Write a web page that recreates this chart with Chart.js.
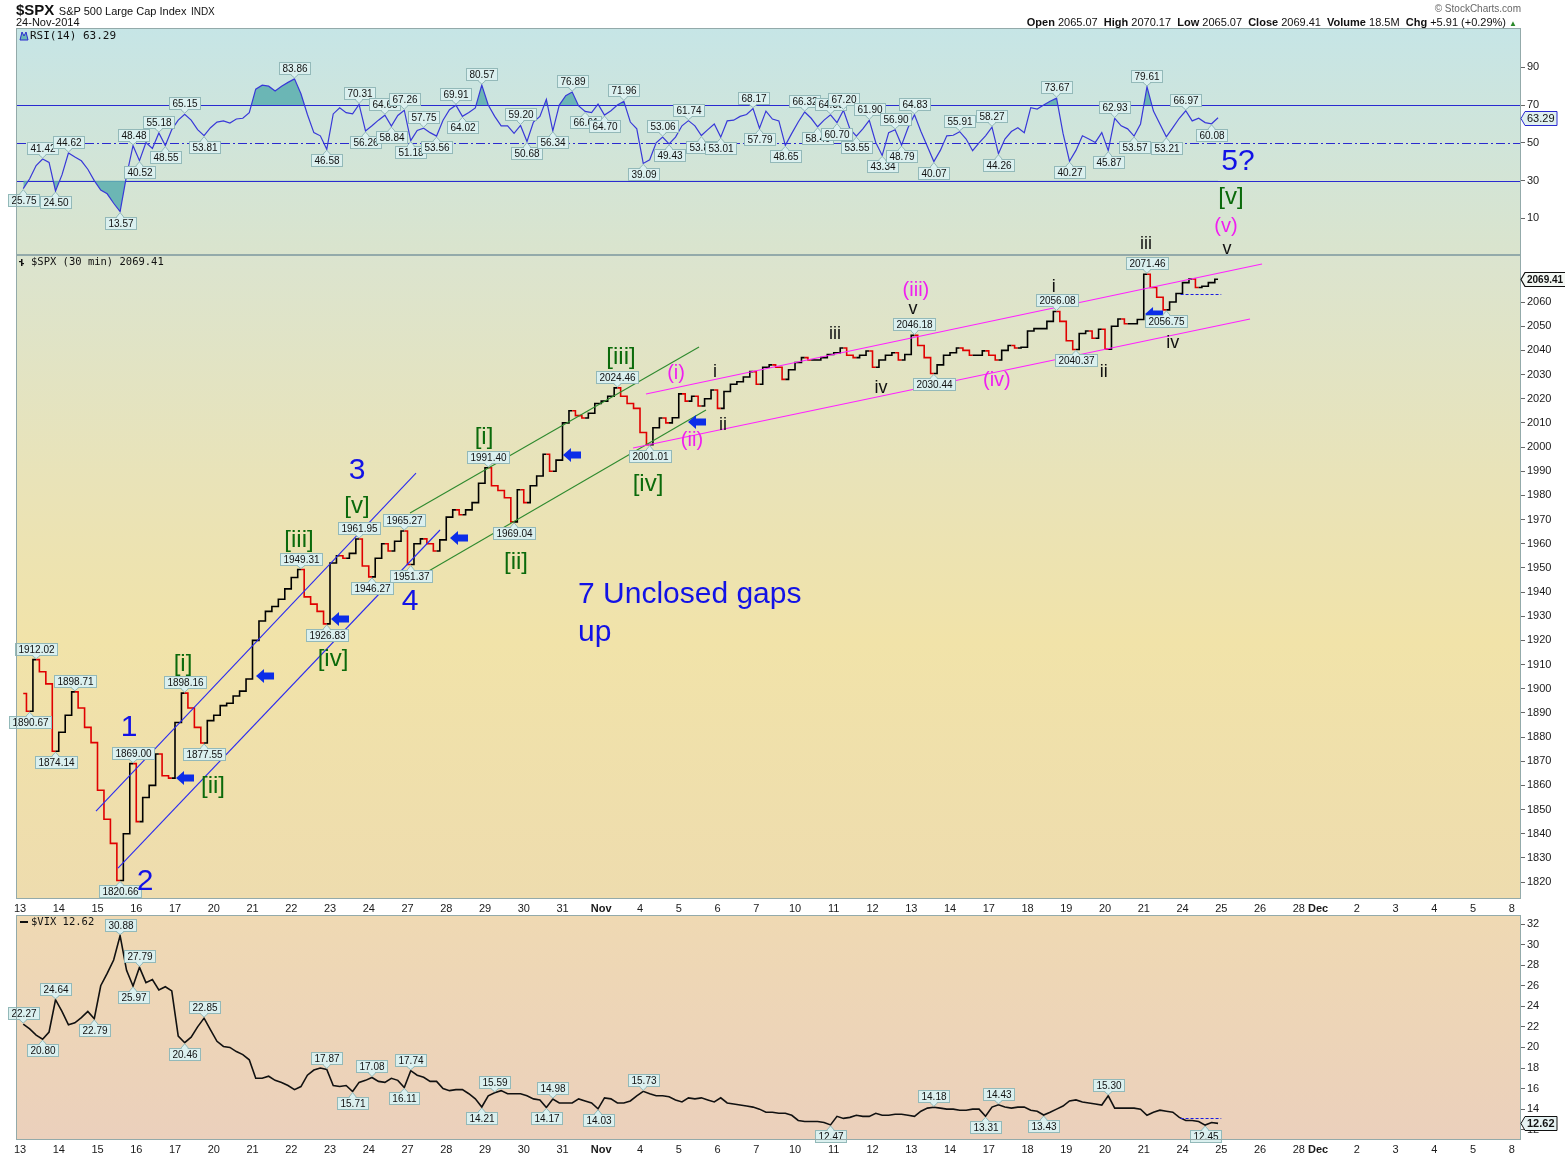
<!DOCTYPE html>
<html><head><meta charset="utf-8">
<script src="https://cdn.jsdelivr.net/npm/chart.js@4.4.1/dist/chart.umd.min.js"></script>
<style>
html,body{margin:0;padding:0;background:#fff;}
body{width:1565px;height:1157px;position:relative;overflow:hidden;font-family:"Liberation Sans",Arial,sans-serif;color:#111;}
.pane{position:absolute;left:0;}
canvas{display:block;}
.hd{position:absolute;white-space:nowrap;z-index:5;}
</style></head><body>
<div class="pane" style="top:0"><canvas id="rsi" width="1565" height="270"></canvas></div>
<div class="pane" style="top:895px"><canvas id="vix" width="1565" height="262"></canvas></div>
<div class="pane" style="top:0"><canvas id="spx" width="1565" height="915"></canvas></div>
<div class="hd" style="left:16px;top:1px;"><b style="font-size:15px;">$SPX</b> <span style="font-size:11px;">S&amp;P 500 Large Cap Index</span> <span style="font-size:10px;">INDX</span></div>
<div class="hd" style="left:16px;top:16px;font-size:11px;">24-Nov-2014</div>
<div class="hd" style="right:44px;top:3px;font-size:10px;color:#666;">&copy; StockCharts.com</div>
<div class="hd" style="right:48px;top:16px;font-size:11px;"><b>Open</b> 2065.07&nbsp; <b>High</b> 2070.17&nbsp; <b>Low</b> 2065.07&nbsp; <b>Close</b> 2069.41&nbsp; <b>Volume</b> 18.5M&nbsp; <b>Chg</b> +5.91 (+0.29%) <span style="color:#2a8a2a;font-size:8px;">&#9650;</span></div>
<script>
// ---------------- DATA ----------------
const sessionLabels = ['13','14','15','16','17','20','21','22','23','24','27','28','29','30','31','Nov','4','5','6','7','10','11','12','13','14','17','18','19','20','21','24','25','26','28','Dec','2','3','4','5','8'];
const sessionLength = [1,1,1,1,1,1,1,1,1,1,1,1,1,1,1,1,1,1,1,1,1,1,1,1,1,1,1,1,1,1,1,1,1,0.5,1,1,1,1,1,1];
const BARS = 6; // sampled points per session

const spxClose = [
 1898,1890.67,1912.02,1907,1902,1874.14,      // Oct 13
 1882,1889,1898.71,1892,1884,1877.7,          // Oct 14
 1858,1846,1836,1820.66,1840,1869.00,         // Oct 15
 1845,1855,1860,1873,1864,1863,               // Oct 16
 1886,1898.16,1892,1884,1877.55,1886.8,       // Oct 17
 1889,1893,1894,1897,1899,1904,               // Oct 20
 1920,1928,1932,1934,1937,1941.3,             // Oct 21
 1946,1949.31,1938,1935,1932,1926.83,         // Oct 22
 1952,1955,1954,1956,1961.95,1950.8,          // Oct 23
 1946.27,1954,1960,1957,1961,1965.27,         // Oct 24
 1951.37,1960,1962,1960,1957,1961.6,          // Oct 27
 1971,1974,1972,1974,1977,1985,               // Oct 28
 1991.40,1984,1982,1979,1969.04,1982.3,       // Oct 29
 1977,1984,1988,1997,1990,1994.6,             // Oct 30
 2010,2015,2013,2012,2014,2018,               // Oct 31
 2019,2021,2024.46,2021,2018,2016,            // Nov 3
 2006,2001.01,2008,2012,2010,2012.1,          // Nov 4
 2022,2019,2021,2017,2020,2023.6,             // Nov 5
 2016,2023,2026,2027,2029,2031.2,             // Nov 6
 2026,2033,2034,2033,2028,2032,               // Nov 7
 2035,2037,2036,2036,2037,2038.3,             // Nov 10
 2039,2041,2038,2037,2038,2039.7,             // Nov 11
 2033,2036,2038,2039,2036,2038.3,             // Nov 12
 2046.18,2042,2037,2030.44,2034,2038,         // Nov 13
 2039,2041,2040,2038,2038,2039.8,             // Nov 14
 2038,2036,2040,2042,2041,2041.3,             // Nov 17
 2048,2049,2049,2052,2056.08,2052,            // Nov 18
 2044,2040.37,2047,2048,2045,2048.7,          // Nov 19
 2040.49,2050,2053,2051,2051,2052.75,         // Nov 20
 2071.46,2066,2062,2056.75,2060,2063.5,       // Nov 21
 2068,2069.5,2066,2066.5,2068,2069.41         // Nov 24
];
const rsi14 = [
 25.75,31,38,41.42,39.6,24.50,
 33,44.62,42.5,40.5,36,30,
 25,23,18,13.57,32.6,48.48,
 40.52,50.2,47,55.18,48.55,57,
 62,65.15,62,57,53.81,58,
 61,61.6,60.5,62.6,63,66,
 78.4,80.5,80,77.4,80,82,
 83.86,76,65,55.4,53.7,46.58,
 65.3,68.6,66,65.3,70.31,56.26,
 59,62,64.63,58.84,64.5,67.26,
 51.18,56.5,57.75,55.4,53.56,62,
 67.5,69.91,64.02,66,68.5,80.57,
 70,64,59,59,55,59.20,
 50.68,61,64,73,56.34,70,
 75,76.89,69.5,66.61,66,70.5,
 64.70,67,70,71.96,61,57.4,
 39.09,41,50,53.06,49.43,53,
 59,61.74,59,53.86,57,60,
 53.01,61.6,62,64,65,68.17,
 57.79,66.8,62.6,61.6,48.65,55,
 61,66.32,63,58.49,62,64.80,
 60.70,67.20,57.4,53.55,57.4,61.90,
 50.2,43.34,55.4,56.90,48.79,58,
 64.83,56,48,40.07,46,53.7,
 54,55.91,52,45.8,50,53.7,
 58.27,44.26,52,56,58,55.4,
 68.6,67.9,70,72,73.67,55,
 40.27,46,53.7,52,50.2,55.4,
 45.87,62.93,59,57.4,53.57,60,
 79.61,66.8,60,53.21,58,63,
 66.97,61.6,63,60.7,60.08,63.29
];
const vixClose = [
 22.27,21.8,21.2,20.80,21.5,24.64,
 23.5,22.2,22.4,22.9,23.5,22.79,
 26,27.2,28.5,30.88,27.5,25.97,
 27.79,26.3,26.6,25.6,25.9,25.5,
 21.1,20.46,21.0,22.0,22.85,21.7,
 20.6,20.1,20.0,19.6,19.3,18.8,
 17.0,17.0,17.2,16.8,16.6,16.3,
 15.9,16.2,17.3,17.8,18.0,17.87,
 16.3,16.2,16.3,15.71,16.6,16.8,
 17.08,16.7,16.6,17.0,16.8,16.11,
 17.74,17.3,17.1,16.7,16.7,16.0,
 15.8,15.9,15.9,15.5,15.0,14.21,
 15.3,15.59,15.8,15.5,15.5,15.5,
 15.3,15.0,14.9,14.17,14.98,14.6,
 14.6,14.6,15.0,14.8,14.6,14.03,
 15.1,15.0,14.6,14.6,14.8,15.3,
 15.73,15.5,15.3,15.3,15.2,14.9,
 14.7,15.1,15.0,15.1,14.9,14.7,
 15.1,14.6,14.5,14.4,14.3,14.2,
 14.0,13.7,13.7,13.6,13.6,13.4,
 12.9,12.8,12.8,12.8,12.7,12.47,
 13.3,13.1,13.2,13.4,13.3,13.3,
 13.6,13.4,13.4,13.5,13.5,13.4,
 13.3,13.8,14.1,14.18,14.1,14.0,
 14.0,13.9,13.9,14.0,14.0,13.31,
 14.2,14.43,14.2,14.1,14.2,14.2,
 13.9,13.8,13.43,13.7,14.0,14.3,
 14.8,14.9,14.7,14.6,14.5,14.4,
 15.30,14.1,14.1,14.1,14.1,14.0,
 13.4,13.7,13.9,13.8,13.7,13.2,
 12.9,12.9,12.8,12.45,12.7,12.62
];
const rsiTicks = [10,30,50,70,90];
const rsiLevels = [70,50,30];
const spxTicks = [1820,1830,1840,1850,1860,1870,1880,1890,1900,1910,1920,1930,1940,1950,1960,1970,1980,1990,2000,2010,2020,2030,2040,2050,2060];
const vixTicks = [12,14,16,18,20,22,24,26,28,30,32];

// labelled highs/lows: [session, point, up/down]
const spxMarks = [[0,1,'d'],[0,2,'u'],[0,5,'d'],[1,2,'u'],[2,3,'d'],[2,5,'u'],[4,1,'u'],[4,4,'d'],[7,1,'u'],[7,5,'d'],[8,4,'u'],[9,0,'d'],[9,5,'u'],[10,0,'d'],[12,0,'u'],[12,4,'d'],[15,2,'u'],[16,1,'d'],[23,0,'u'],[23,3,'d'],[26,4,'u'],[27,1,'d'],[29,0,'u'],[29,3,'d']];
const rsiMarks = [[0,0,'d'],[0,3,'u'],[0,5,'d'],[1,1,'u'],[2,3,'d'],[2,5,'u'],[3,0,'d'],[3,3,'u'],[3,4,'d'],[4,1,'u'],[4,4,'d'],[7,0,'u'],[7,5,'d'],[8,4,'u'],[8,5,'d'],[9,2,'u'],[9,3,'d'],[9,5,'u'],[10,0,'d'],[10,2,'u'],[10,4,'d'],[11,1,'u'],[11,2,'d'],[11,5,'u'],[12,5,'u'],[13,0,'d'],[13,4,'d'],[14,1,'u'],[14,3,'d'],[15,0,'d'],[15,3,'u'],[16,0,'d'],[16,3,'u'],[16,4,'d'],[17,1,'u'],[17,3,'d'],[18,0,'d'],[18,5,'u'],[19,0,'d'],[19,4,'d'],[20,1,'u'],[20,3,'d'],[20,5,'u'],[21,0,'d'],[21,1,'u'],[21,3,'d'],[21,5,'u'],[22,1,'d'],[22,3,'u'],[22,4,'d'],[23,0,'u'],[23,3,'d'],[24,1,'u'],[25,0,'u'],[25,1,'d'],[26,4,'u'],[27,0,'d'],[28,0,'d'],[28,1,'u'],[28,4,'d'],[29,0,'u'],[29,3,'d'],[30,0,'u'],[30,4,'d']];
const vixMarks = [[0,0,'u'],[0,3,'d'],[0,5,'u'],[1,5,'d'],[2,3,'u'],[2,5,'d'],[3,0,'u'],[4,1,'d'],[4,4,'u'],[7,5,'u'],[8,3,'d'],[9,0,'u'],[9,5,'d'],[10,0,'u'],[11,5,'d'],[12,1,'u'],[13,3,'d'],[13,4,'u'],[14,5,'d'],[16,0,'u'],[20,5,'d'],[23,3,'u'],[24,5,'d'],[25,1,'u'],[26,2,'d'],[28,0,'u'],[30,3,'d']];

// drawn trend channels: [session-from, price-from, session-to, price-to, colour]
const channelLines = [
 [1.961,1849.4,10.219,1989.25,'#2b2bf0'],
 [2.529,1825.8,10.839,1965.67,'#2b2bf0'],
 [10.065,1972.7,17.523,2041.4,'#2f8a2f'],
 [10.503,1948.3,17.703,2015.3,'#2f8a2f'],
 [16.155,2021.94,32.052,2075.7,'#ff22ff'],
 [15.82,1999.6,31.742,2052.97,'#ff22ff']
];
// unclosed gap arrows: [session, price]
const gapArrows = [[4.258,1863.06],[6.323,1905.26],[8.258,1928.85],[11.329,1962.36],[14.245,1996.7],[17.471,2010.35],[29.265,2055.0]];
// last open gap (Nov 21 close) lines
const gapSpan = [29.95, 31.0];
const spxGapLevel = 2063.5;
const vixGapLevel = 13.17;
// Elliott wave annotations: [text, style, session, price]
const waveLabels = [
 ['1','b',2.813,1883.75],['2','b',3.226,1820.0],['3','b',8.697,1990.1],['4','b',10.065,1935.9],['5?','b',31.432,2117.9],
 ['[i]','g',4.206,1910.2],['[ii]','g',4.981,1859.75],['[iii]','g',7.2,1961.5],['[iv]','g',8.077,1912.3],['[v]','g',8.697,1975.6],
 ['[i]','g',11.974,2004.15],['[ii]','g',12.8,1952.4],['[iii]','g',15.51,2037.25],['[iv]','g',16.206,1984.7],['[v]','g',31.25,2103.4],
 ['(i)','m',16.93,2030.6],['(ii)','m',17.34,2002.9],['(iii)','m',23.12,2064.95],['(iv)','m',25.21,2027.7],['(v)','m',31.12,2091.45],
 ['i','k',17.935,2031.0],['ii','k',18.14,2009.1],['iii','k',21.03,2046.8],['iv','k',22.22,2024.4],['v','k',23.045,2057.1],
 ['i','k',26.68,2066.2],['ii','k',27.97,2031.0],['iii','k',29.06,2084.0],['iv','k',29.75,2043.0],['v','k',31.15,2081.9]
];
const noteLines = [['7 Unclosed gaps',14.4,1938.8],['up',14.4,1923.05]];

// ---------------- HELPERS ----------------
Chart.defaults.font.family = '"Liberation Sans", Arial, sans-serif';
Chart.defaults.font.size = 11;
Chart.defaults.color = '#1a1a1a';
const X_MIN = -0.0774, X_MAX = 38.735;
const starts = []; { let a = 0; for (const L of sessionLength) { starts.push(a); a += L; } }
const toPoints = arr => arr.map((v, k) => { const d = Math.floor(k / BARS); return {x: starts[d] + ((k % BARS) + 0.5) / BARS * sessionLength[d], y: v}; });
const spxPts = toPoints(spxClose), rsiPts = toPoints(rsi14), vixPts = toPoints(vixClose);

const xScale = show => ({
  type: 'linear', min: X_MIN, max: X_MAX, display: show,
  afterBuildTicks: s => { s.ticks = starts.map(v => ({value: v})); },
  ticks: { autoSkip: false, maxRotation: 0, minRotation: 0, padding: 3, color: '#1a1a1a',
    font: c => ({size: 11, weight: /^[A-Z]/.test(sessionLabels[c.index] || '') ? 'bold' : 'normal'}),
    callback: (v, i) => sessionLabels[i] },
  grid: { display: false, drawTicks: false }, border: { display: false },
  afterFit: s => { s.height = show ? 16 : 0; }
});
const yScale = (min, max, ticks, fmt) => ({
  position: 'right', min, max,
  afterBuildTicks: s => { s.ticks = ticks.map(v => ({value: v})); },
  ticks: { autoSkip: false, padding: 2, color: '#1a1a1a', font: {size: 11}, callback: v => fmt(v) },
  grid: { display: true, drawOnChartArea: false, drawTicks: true, tickLength: 4, color: '#666' },
  border: { display: false },
  afterFit: s => { s.width = 44; }
});
function panelPlugin(id, stops) {
  return { id,
    beforeDraw(chart) {
      const {ctx, chartArea: a} = chart;
      const g = ctx.createLinearGradient(0, a.top, 0, a.bottom);
      stops.forEach(([o, c]) => g.addColorStop(o, c));
      ctx.save(); ctx.fillStyle = g; ctx.fillRect(a.left, a.top, a.right - a.left, a.bottom - a.top); ctx.restore();
    },
    afterDraw(chart) {
      const {ctx, chartArea: a} = chart;
      ctx.save(); ctx.strokeStyle = '#93aaaa'; ctx.lineWidth = 1;
      ctx.strokeRect(Math.round(a.left) - 0.5, Math.round(a.top) + 0.5, Math.round(a.right - a.left), Math.round(a.bottom - a.top) - 1);
      ctx.restore();
    }
  };
}
function valueBox(ctx, x, y, text, dir) {
  ctx.font = '10px "Liberation Sans", Arial, sans-serif';
  const w = Math.ceil(ctx.measureText(text).width) + 5, h = 12, gap = 5;
  const bx = Math.round(x - w / 2) + 0.5;
  const by = Math.round(dir === 'u' ? y - gap - h : y + gap) + 0.5;
  ctx.fillStyle = '#dbf0ef'; ctx.strokeStyle = '#93b9b9'; ctx.lineWidth = 1;
  ctx.beginPath();
  if (dir === 'u') { ctx.moveTo(x - 4, by + h); ctx.lineTo(x, y - 1); ctx.lineTo(x + 4, by + h); }
  else { ctx.moveTo(x - 4, by); ctx.lineTo(x, y + 1); ctx.lineTo(x + 4, by); }
  ctx.closePath(); ctx.fill(); ctx.stroke();
  ctx.fillRect(bx, by, w, h); ctx.strokeRect(bx, by, w, h);
  ctx.fillRect(x - 3, dir === 'u' ? by + h - 1.5 : by - 0.5, 6, 2);
  ctx.fillStyle = '#111'; ctx.textAlign = 'center'; ctx.textBaseline = 'middle';
  ctx.fillText(text, bx + w / 2, by + h / 2 + 0.5);
}
function drawMarks(chart, pts, marks) {
  const {ctx, scales: {x, y}} = chart;
  ctx.save();
  marks.forEach(([d, i, dir]) => {
    const p = pts[d * BARS + i];
    valueBox(ctx, x.getPixelForValue(p.x), y.getPixelForValue(p.y), p.y.toFixed(2), dir);
  });
  ctx.restore();
}
function axisTag(chart, value, text, opt) {
  const {ctx, chartArea: a, scales: {y}} = chart;
  const py = Math.round(y.getPixelForValue(value)) + 0.5;
  ctx.save();
  ctx.font = (opt.bold ? 'bold ' : '') + (opt.size || 11) + 'px "Liberation Sans", Arial, sans-serif';
  const w = Math.ceil(ctx.measureText(text).width) + 4, h = 14, x0 = a.right, tip = 4;
  ctx.beginPath(); ctx.moveTo(x0, py); ctx.lineTo(x0 + tip, py - h / 2); ctx.lineTo(x0 + tip + w, py - h / 2);
  ctx.lineTo(x0 + tip + w, py + h / 2); ctx.lineTo(x0 + tip, py + h / 2); ctx.closePath();
  ctx.fillStyle = opt.fill; ctx.fill(); ctx.strokeStyle = opt.stroke; ctx.lineWidth = opt.lw || 1; ctx.stroke();
  ctx.fillStyle = '#111'; ctx.textAlign = 'left'; ctx.textBaseline = 'middle';
  ctx.fillText(text, x0 + tip + 2, py + 0.5);
  ctx.restore();
}
const common = { responsive: false, animation: false, devicePixelRatio: 1, events: [],
  plugins: { legend: {display: false}, tooltip: {enabled: false} } };

// ---------------- RSI PANEL ----------------
const teal = 'rgba(96,176,176,0.9)';
new Chart(document.getElementById('rsi'), {
  type: 'line',
  data: { datasets: [
    { data: rsiPts, borderColor: '#3838d8', borderWidth: 1.2, pointRadius: 0, tension: 0,
      fill: { target: {value: 70}, above: teal, below: 'rgba(0,0,0,0)' } },
    { data: rsiPts, borderWidth: 0, borderColor: 'rgba(0,0,0,0)', pointRadius: 0, tension: 0,
      fill: { target: {value: 30}, above: 'rgba(0,0,0,0)', below: teal } }
  ]},
  options: { ...common,
    layout: { padding: {left: 17, top: 28, right: 0, bottom: 15} },
    scales: { x: xScale(false), y: yScale(-9.4, 110.8, rsiTicks, v => String(v)) }
  },
  plugins: [panelPlugin('rsiBg', [[0, '#c6e5e6'], [1, '#dae4cd']]), {
    id: 'rsiOverlay',
    beforeDatasetsDraw(chart) {
      const {ctx, chartArea: a, scales: {y}} = chart;
      ctx.save(); ctx.strokeStyle = '#2a2ad0'; ctx.lineWidth = 1;
      rsiLevels.forEach(v => {
        const py = Math.round(y.getPixelForValue(v)) + 0.5;
        ctx.setLineDash(v === 50 ? [9, 3, 2, 3] : []);
        ctx.beginPath(); ctx.moveTo(a.left, py); ctx.lineTo(a.right, py); ctx.stroke();
      });
      ctx.restore();
    },
    afterDatasetsDraw(chart) { drawMarks(chart, rsiPts, rsiMarks); },
    afterDraw(chart) {
      const {ctx, chartArea: a} = chart;
      const last = rsi14[rsi14.length - 1];
      ctx.save();
      ctx.fillStyle = teal; ctx.strokeStyle = '#2a2ad0'; ctx.lineWidth = 1;
      ctx.beginPath(); ctx.moveTo(a.left + 3, a.top + 12); ctx.lineTo(a.left + 5, a.top + 4); ctx.lineTo(a.left + 7, a.top + 8);
      ctx.lineTo(a.left + 9, a.top + 4); ctx.lineTo(a.left + 11, a.top + 12); ctx.closePath(); ctx.fill(); ctx.stroke();
      ctx.fillStyle = '#111'; ctx.font = '11px "DejaVu Sans Mono", monospace'; ctx.textBaseline = 'middle';
      ctx.fillText('RSI(14) ' + last.toFixed(2), a.left + 13, a.top + 8);
      ctx.restore();
      axisTag(chart, last, last.toFixed(2), {fill: '#dff0f0', stroke: '#2a2ad0'});
    }
  }]
});

// ---------------- VIX PANEL ----------------
new Chart(document.getElementById('vix'), {
  type: 'line',
  data: { datasets: [
    { data: vixPts, borderColor: '#111', borderWidth: 1.6, pointRadius: 0, tension: 0, fill: false }
  ]},
  options: { ...common,
    layout: { padding: {left: 17, top: 20, right: 0, bottom: 1} },
    scales: { x: xScale(true), y: yScale(11.0, 32.88, vixTicks, v => String(v)) }
  },
  plugins: [panelPlugin('vixBg', [[0, '#efd9b3'], [1, '#ebd0bc']]), {
    id: 'vixOverlay',
    afterDatasetsDraw(chart) {
      const {ctx, scales: {x, y}} = chart;
      ctx.save(); ctx.strokeStyle = '#1a1ae0'; ctx.lineWidth = 1; ctx.setLineDash([3, 2]);
      const py = Math.round(y.getPixelForValue(vixGapLevel)) + 0.5;
      ctx.beginPath(); ctx.moveTo(x.getPixelForValue(gapSpan[0]), py); ctx.lineTo(x.getPixelForValue(gapSpan[1]), py); ctx.stroke();
      ctx.restore();
      drawMarks(chart, vixPts, vixMarks);
    },
    afterDraw(chart) {
      const {ctx, chartArea: a} = chart;
      const last = vixClose[vixClose.length - 1];
      ctx.save();
      ctx.fillStyle = '#111'; ctx.fillRect(a.left + 3, a.top + 6, 8, 2);
      ctx.font = '10.5px "DejaVu Sans Mono", monospace'; ctx.textBaseline = 'middle';
      ctx.fillText('$VIX ' + last.toFixed(2), a.left + 14, a.top + 7);
      ctx.restore();
      axisTag(chart, last, last.toFixed(2), {fill: '#e6f2f2', stroke: '#111', bold: true});
    }
  }]
});

// ---------------- SPX PANEL ----------------
const waveStyle = {
  b: {color: '#1212e6', font: '30px "Liberation Sans", Arial, sans-serif'},
  g: {color: '#0b6a0b', font: '24px "Liberation Sans", Arial, sans-serif'},
  m: {color: '#f01ef0', font: '20px "Liberation Sans", Arial, sans-serif'},
  k: {color: '#111111', font: '18px "Liberation Sans", Arial, sans-serif'}
};
new Chart(document.getElementById('spx'), {
  type: 'line',
  data: { datasets: [
    { data: spxPts, stepped: 'middle', borderWidth: 1.6, pointRadius: 0, borderColor: '#000', fill: false,
      segment: { borderColor: c => c.p1.parsed.y < c.p0.parsed.y ? '#e00000' : '#000' } }
  ]},
  options: { ...common,
    layout: { padding: {left: 17, top: 255, right: 0, bottom: 0} },
    scales: { x: xScale(true), y: yScale(1813.0, 2079.45, spxTicks, v => String(v)) }
  },
  plugins: [panelPlugin('spxBg', [[0, '#dbe4cf'], [0.35, '#e9e3b8'], [0.6, '#f1e3a9'], [1, '#eedcae']]), {
    id: 'spxOverlay',
    afterDatasetsDraw(chart) {
      const {ctx, chartArea: a, scales: {x, y}} = chart;
      ctx.save();
      ctx.beginPath(); ctx.rect(a.left, a.top, a.right - a.left, a.bottom - a.top); ctx.clip();
      ctx.lineWidth = 1.1;
      channelLines.forEach(([d1, p1, d2, p2, col]) => {
        ctx.strokeStyle = col; ctx.beginPath();
        ctx.moveTo(x.getPixelForValue(d1), y.getPixelForValue(p1));
        ctx.lineTo(x.getPixelForValue(d2), y.getPixelForValue(p2)); ctx.stroke();
      });
      ctx.strokeStyle = '#1a1ae0'; ctx.lineWidth = 1; ctx.setLineDash([3, 2]);
      const gy = Math.round(y.getPixelForValue(spxGapLevel)) + 0.5;
      ctx.beginPath(); ctx.moveTo(x.getPixelForValue(gapSpan[0]), gy); ctx.lineTo(x.getPixelForValue(gapSpan[1]), gy); ctx.stroke();
      ctx.setLineDash([]);
      ctx.fillStyle = '#0c2de8';
      gapArrows.forEach(([d, p]) => {
        const cx = x.getPixelForValue(d), cy = y.getPixelForValue(p);
        ctx.beginPath();
        ctx.moveTo(cx - 9, cy); ctx.lineTo(cx - 1, cy - 7); ctx.lineTo(cx - 1, cy - 3.5); ctx.lineTo(cx + 9, cy - 3.5);
        ctx.lineTo(cx + 9, cy + 3.5); ctx.lineTo(cx - 1, cy + 3.5); ctx.lineTo(cx - 1, cy + 7); ctx.closePath(); ctx.fill();
      });
      ctx.restore();
      drawMarks(chart, spxPts, spxMarks);
    },
    afterDraw(chart) {
      const {ctx, chartArea: a, scales: {x, y}} = chart;
      ctx.save();
      ctx.textAlign = 'center'; ctx.textBaseline = 'middle';
      waveLabels.forEach(([t, s, d, p]) => {
        ctx.fillStyle = waveStyle[s].color; ctx.font = waveStyle[s].font;
        ctx.fillText(t, x.getPixelForValue(d), y.getPixelForValue(p));
      });
      ctx.textAlign = 'left'; ctx.fillStyle = '#1212e6'; ctx.font = '30px "Liberation Sans", Arial, sans-serif';
      noteLines.forEach(([t, d, p]) => ctx.fillText(t, x.getPixelForValue(d), y.getPixelForValue(p)));
      const last = spxClose[spxClose.length - 1];
      ctx.fillStyle = '#111'; ctx.fillRect(a.left + 4, a.top + 4, 1.5, 7); ctx.fillRect(a.left + 2, a.top + 6, 2, 1.2); ctx.fillRect(a.left + 5, a.top + 8, 2, 1.2);
      ctx.font = '10.5px "DejaVu Sans Mono", monospace'; ctx.textBaseline = 'middle';
      ctx.fillText('$SPX (30 min) ' + last.toFixed(2), a.left + 14, a.top + 7);
      ctx.restore();
      axisTag(chart, last, last.toFixed(2), {fill: '#f4f8f4', stroke: '#111', bold: true, lw: 1.2, size: 10});
    }
  }]
});
</script>
</body></html>
